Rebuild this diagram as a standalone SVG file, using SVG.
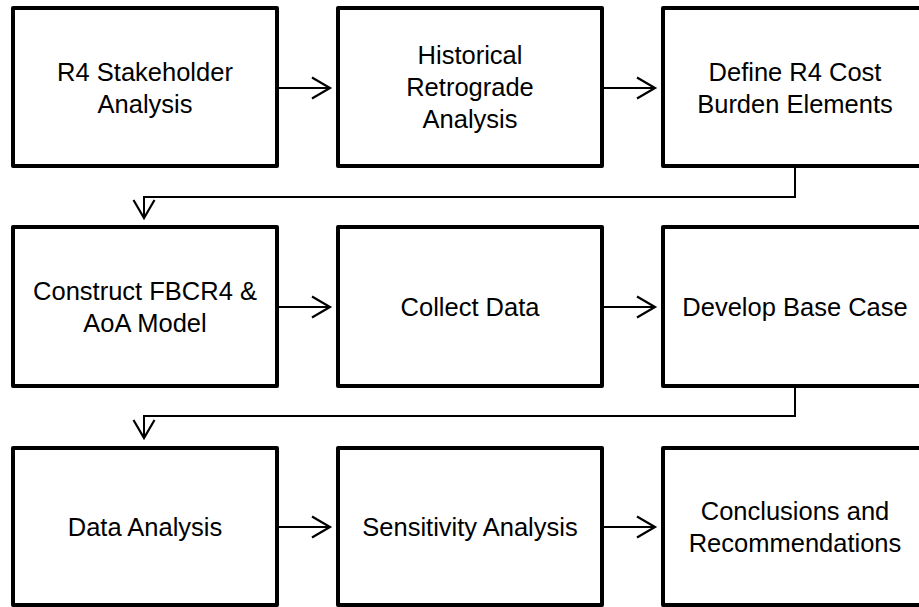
<svg xmlns="http://www.w3.org/2000/svg" width="919" height="607" viewBox="0 0 919 607">
<style>
.box{fill:#fff;stroke:#000;stroke-width:4;stroke-linejoin:round}
.lbl{font-family:"Liberation Sans",Arial,sans-serif;font-size:25.5px;fill:#000;text-anchor:middle}
.ln{fill:none;stroke:#000;stroke-width:2}
.hd{fill:none;stroke:#000;stroke-width:2.2;stroke-linejoin:miter}
</style>
<rect width="919" height="607" fill="#fff"/>
<g id="n1"><rect class="box" x="13" y="8" width="264" height="158"/><text class="lbl" x="145" y="81">R4 Stakeholder</text><text class="lbl" x="145" y="113">Analysis</text></g>
<g id="n2"><rect class="box" x="338" y="8" width="264" height="158"/><text class="lbl" x="470" y="64">Historical</text><text class="lbl" x="470" y="96">Retrograde</text><text class="lbl" x="470" y="128">Analysis</text></g>
<g id="n3"><rect class="box" x="663" y="8" width="264" height="158"/><text class="lbl" x="795" y="81">Define R4 Cost</text><text class="lbl" x="795" y="113">Burden Elements</text></g>
<g id="n4"><rect class="box" x="13" y="227" width="264" height="159"/><text class="lbl" x="145" y="300">Construct FBCR4 &amp;</text><text class="lbl" x="145" y="332">AoA Model</text></g>
<g id="n5"><rect class="box" x="338" y="227" width="264" height="159"/><text class="lbl" x="470" y="316">Collect Data</text></g>
<g id="n6"><rect class="box" x="663" y="227" width="264" height="159"/><text class="lbl" x="795" y="316">Develop Base Case</text></g>
<g id="n7"><rect class="box" x="13" y="448" width="264" height="157"/><text class="lbl" x="145" y="536">Data Analysis</text></g>
<g id="n8"><rect class="box" x="338" y="448" width="264" height="157"/><text class="lbl" x="470" y="536">Sensitivity Analysis</text></g>
<g id="n9"><rect class="box" x="663" y="448" width="264" height="157"/><text class="lbl" x="795" y="520">Conclusions and</text><text class="lbl" x="795" y="552">Recommendations</text></g>
<g id="connectors">
<path class="ln" d="M279 88H329"/><path class="hd" d="M312 77.5L330 88L312 98.5"/>
<path class="ln" d="M604 88H654"/><path class="hd" d="M637 77.5L655 88L637 98.5"/>
<path class="ln" d="M795 168V197H144V217"/><path class="hd" d="M133.5 200L144 218L154.5 200"/>
<path class="ln" d="M279 307H329"/><path class="hd" d="M312 296.5L330 307L312 317.5"/>
<path class="ln" d="M604 307H654"/><path class="hd" d="M637 296.5L655 307L637 317.5"/>
<path class="ln" d="M795 388V416H144V437"/><path class="hd" d="M133.5 420L144 438L154.5 420"/>
<path class="ln" d="M279 527H329"/><path class="hd" d="M312 516.5L330 527L312 537.5"/>
<path class="ln" d="M604 527H654"/><path class="hd" d="M637 516.5L655 527L637 537.5"/>
</g>
</svg>
